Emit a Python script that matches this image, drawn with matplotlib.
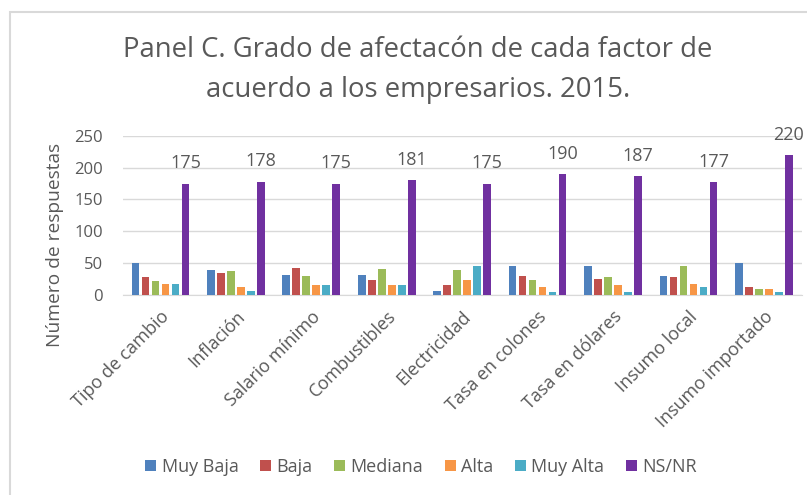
import numpy as np
import matplotlib
matplotlib.use("Agg")
import matplotlib.pyplot as plt
from matplotlib.patches import Rectangle

plt.rcParams['font.family'] = ['Open Sans', 'DejaVu Sans']

categories = ["Tipo de cambio", "Inflación", "Salario mínimo", "Combustibles",
              "Electricidad", "Tasa en colones", "Tasa en dólares",
              "Insumo local", "Insumo importado"]
series_names = ["Muy Baja", "Baja", "Mediana", "Alta", "Muy Alta", "NS/NR"]
muy_baja = [50, 39, 31, 31, 7, 46, 46, 30, 50]
baja = [28, 34, 43, 24, 16, 30, 25, 28, 12]
mediana = [22, 37, 30, 41, 39, 24, 28, 45, 10]
alta = [17, 12, 16, 16, 24, 12, 16, 17, 10]
muy_alta = [17, 7, 16, 16, 45, 5, 5, 12, 5]
ns_nr = [175, 178, 175, 181, 175, 190, 187, 177, 220]
colors = ["#4F81BD", "#C0504D", "#9BBB59", "#F79646", "#4BACC6", "#7030A0"]

series = [muy_baja, baja, mediana, alta, muy_alta, ns_nr]
txt = "#595959"
grid = "#D9D9D9"

fig = plt.figure(figsize=(8.07, 4.95), dpi=100)
ax = fig.add_axes([0.152, 0.404, 0.8414, 0.3218])

x = np.arange(len(categories))
pitch = 0.1326
width = 0.102
for i, (name, vals) in enumerate(zip(series_names, series)):
    pos = x + (i - 2.5) * pitch
    bars = ax.bar(pos, vals, width=width, color=colors[i], label=name, zorder=3)
    if name == "NS/NR":
        for b, v in zip(bars, vals):
            ax.annotate(str(v), xy=(b.get_x() + b.get_width() / 2, v),
                        xytext=(0, 8), textcoords="offset points",
                        ha="center", va="bottom", fontsize=13, color=txt)

ax.set_xlim(-0.5, len(categories) - 0.5)
ax.set_ylim(0, 250)
ax.set_yticks(range(0, 251, 50))
ax.yaxis.grid(True, color=grid, linewidth=1, zorder=0)
for s in ["top", "right", "left"]:
    ax.spines[s].set_visible(False)
ax.spines["bottom"].set_color(grid)
ax.tick_params(axis="both", length=0, colors=txt, labelsize=12)
ax.tick_params(axis="y", pad=14)
ax.set_xticks(x)
ax.set_xticklabels(categories, rotation=45, ha="right", rotation_mode="anchor",
                   fontsize=13)
ax.tick_params(axis="x", pad=9)
ax.set_ylabel("Número de respuestas", fontsize=13.8, color=txt)
ax.yaxis.set_label_coords(-0.086, 0.314)

fig.text(418 / 807, 1 - 70 / 495,
         "Panel C. Grado de afectacón de cada factor de\nacuerdo a los empresarios. 2015.",
         ha="center", va="center", fontsize=19.8, color=txt, linespacing=1.55)

ax.legend(loc="center", bbox_to_anchor=(421 / 807, 1 - 467 / 495),
          bbox_transform=fig.transFigure, ncol=6, frameon=False, fontsize=13,
          handlelength=0.6, handleheight=0.6, handletextpad=0.3,
          columnspacing=1.2, labelcolor=txt)

fig.patches.append(Rectangle((10 / 807, -0.2), 1.0, 1.2 - 12 / 495,
                             transform=fig.transFigure, fill=False,
                             edgecolor=grid, linewidth=1.5))

fig.savefig("out.png", dpi=100)
